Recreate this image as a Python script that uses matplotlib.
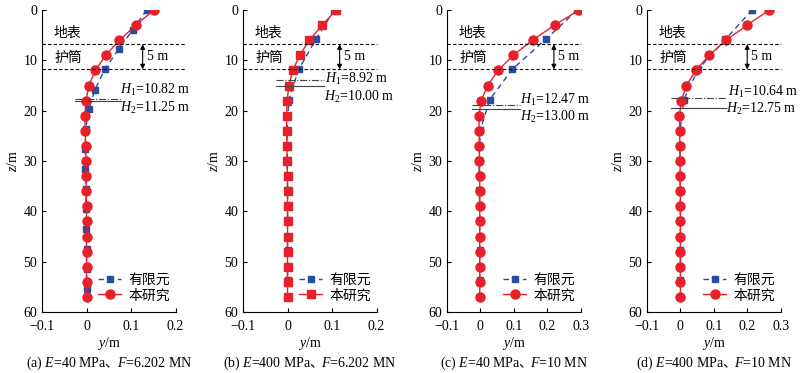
import matplotlib
matplotlib.use("Agg")
import matplotlib.pyplot as plt

plt.rcParams['font.family'] = ['Liberation Serif', 'Noto Sans CJK SC']
plt.rcParams['mathtext.fontset'] = 'custom'
plt.rcParams['mathtext.rm'] = 'Liberation Serif'
plt.rcParams['mathtext.it'] = 'Liberation Serif:italic'
plt.rcParams['font.size'] = 10

RED = "#e8202a"
BLUE = "#2b4c9f"

# depths (m)
z_ours = [0, 3, 6, 9, 12, 15, 18, 21, 24, 27, 30, 33, 36, 39, 42, 45, 48, 51, 54, 57]
z_fem_a = [0, 3.9, 7.8, 11.8, 15.8, 19.7, 23.7, 27.7, 31.6, 35.6, 39.6, 43.6, 47.5, 51.5, 55.5]
z_fem = [0, 5.8, 11.8, 17.8, 23.8, 29.8, 35.7, 41.7, 47.7, 53.7]

# lateral displacement y (m)
ours_a = [0.151, 0.111, 0.074, 0.043, 0.020, 0.005, -0.001, -0.004, -0.003, -0.002,
          -0.001, -0.001, -0.001, 0, 0, 0, 0, 0, 0, 0]
fem_a = [0.135, 0.104, 0.072, 0.041, 0.019, 0.005, -0.002, -0.003, -0.003, -0.002,
         -0.001, -0.001, 0, 0, 0]
ours_b = [0.109, 0.078, 0.049, 0.027, 0.012, 0.003, -0.001, -0.002, -0.002, -0.001,
          -0.001, 0, 0, 0, 0, 0, 0, 0, 0, 0]
fem_b = [0.105, 0.064, 0.025, 0.003, -0.001, -0.001, 0, 0, 0, 0]
ours_c = [0.296, 0.222, 0.156, 0.098, 0.053, 0.022, 0.002, -0.004, -0.004, -0.003,
          -0.003, -0.002, -0.002, -0.002, -0.002, -0.002, -0.002, -0.002, -0.002, -0.002]
fem_c = [0.29, 0.196, 0.095, 0.028, 0.0, -0.004, -0.003, -0.002, -0.002, -0.002]
ours_d = [0.266, 0.200, 0.137, 0.086, 0.046, 0.018, 0.003, -0.003, -0.002, -0.002,
          -0.001, -0.001, 0, 0, 0, 0, 0, 0, 0, 0]
fem_d = [0.215, 0.135, 0.053, 0.010, -0.001, -0.001, -0.001, 0, 0, 0]

ticks_ab = [-0.1, 0, 0.1, 0.2]
ticks_cd = [-0.1, 0, 0.1, 0.2, 0.3]
ticklabels_ab = ["\u22120.1", "0", "0.1", "0.2"]
ticklabels_cd = ["\u22120.1", "0", "0.1", "0.2", "0.3"]
yticks = [0, 10, 20, 30, 40, 50, 60]

h1_labels = ["10.82", "8.92", "12.47", "10.64"]
h2_labels = ["11.25", "10.00", "13.00", "12.75"]
# caption split around the CJK comma (mathtext can't fall back to the CJK font)
cap_left = ["(a) $E$=40 MPa", "(b) $E$=400 MPa", "(c) $E$=40 MPa", "(d) $E$=400 MPa"]
cap_right = ["$F$=6.202 MN", "$F$=6.202 MN", "$F$=10 MN", "$F$=10 MN"]

ground_z = 6.8
casing_z = 11.8

panels = [
    dict(ours=ours_a, fem=fem_a, zf=z_fem_a, marker="o", ticks=ticks_ab, tl=ticklabels_ab,
         left=0.0525, dash_end=0.222, arrow_x=0.126,
         h1z=17.6, h2z=18.0, hx=(-0.026, 0.078), h1t=(0.076, 15.8), h2t=(0.076, 19.4)),
    dict(ours=ours_b, fem=fem_b, zf=z_fem, marker="s", ticks=ticks_ab, tl=ticklabels_ab,
         left=0.30375, dash_end=0.2, arrow_x=0.117,
         h1z=13.9, h2z=15.1, hx=(-0.025, 0.083), h1t=(0.085, 13.7), h2t=(0.083, 17.3)),
    dict(ours=ours_c, fem=fem_c, zf=z_fem, marker="o", ticks=ticks_cd, tl=ticklabels_cd,
         left=0.55875, dash_end=0.3, arrow_x=0.22,
         h1z=18.9, h2z=19.6, hx=(-0.024, 0.118), h1t=(0.12, 17.9), h2t=(0.12, 21.3)),
    dict(ours=ours_d, fem=fem_d, zf=z_fem, marker="o", ticks=ticks_cd, tl=ticklabels_cd,
         left=0.80875, dash_end=0.3, arrow_x=0.2,
         h1z=17.5, h2z=19.5, hx=(-0.027, 0.136), h1t=(0.143, 16.2), h2t=(0.138, 19.7)),
]

fig = plt.figure(figsize=(8, 3.73), dpi=100)
renderer = fig.canvas.get_renderer()
fig_w = fig.get_figwidth() * fig.dpi

AX_W = 0.167

for i, p in enumerate(panels):
    ax = fig.add_axes([p["left"], 0.1635, AX_W, 0.8097])
    ms_ours = 6.5 if p["marker"] == "o" else 5.5
    ax.plot(p["fem"], p["zf"], color=BLUE, ls=(0, (4, 3)), lw=1.0, marker="s",
            ms=5, label="有限元")
    ax.plot(p["ours"], z_ours, color=RED, lw=1.0, marker=p["marker"], ms=ms_ours,
            label="本研究")

    x0, x1 = p["ticks"][0], p["ticks"][-1]
    ax.set_xlim(x0, x1)
    ax.set_ylim(60, 0)
    ax.set_xticks(p["ticks"])
    ax.set_xticklabels(p["tl"])
    ax.set_yticks(yticks)
    ax.spines["top"].set_visible(False)
    ax.spines["right"].set_visible(False)
    ax.tick_params(direction="in", length=3, width=0.8, labelsize=10)
    ax.tick_params(axis="x", pad=6)
    ax.set_xlabel("$y$/m", fontsize=10, labelpad=1)
    ax.set_ylabel("$z$/m", fontsize=10, labelpad=2)

    # ground / casing lines
    for zz in (ground_z, casing_z):
        ax.plot([x0, p["dash_end"]], [zz, zz], color="black", lw=0.8,
                ls=(0, (3, 2)), clip_on=False)
    ax.text(0.09, 4.6, "地表", transform=ax.get_yaxis_transform(), fontsize=10,
            va="center", ha="left")
    ax.text(0.09, 9.5, "护筒", transform=ax.get_yaxis_transform(), fontsize=10,
            va="center", ha="left")
    ax.annotate("", xy=(p["arrow_x"], casing_z), xytext=(p["arrow_x"], ground_z),
                arrowprops=dict(arrowstyle="<|-|>", color="black", lw=0.8,
                                mutation_scale=7, shrinkA=0, shrinkB=0))
    ax.annotate("5 m", xy=(p["arrow_x"], 9.3), xytext=(3, 0),
                textcoords="offset points", va="center", ha="left", fontsize=10)

    # H1 / H2 markers
    ax.plot(p["hx"], [p["h1z"], p["h1z"]], color="#444444", lw=0.8, ls="-.")
    ax.plot(p["hx"], [p["h2z"], p["h2z"]], color="#444444", lw=0.8, ls="-")
    ax.text(p["h1t"][0], p["h1t"][1], "$H_1$=" + h1_labels[i] + " m",
            va="center", ha="left", fontsize=10)
    ax.text(p["h2t"][0], p["h2t"][1], "$H_2$=" + h2_labels[i] + " m",
            va="center", ha="left", fontsize=10)

    ax.legend(loc="lower right", bbox_to_anchor=(1.03, 0.0), frameon=False,
              handlelength=1.7, handletextpad=0.5, labelspacing=0.15,
              borderaxespad=0.3, fontsize=10)

    # caption: left part + CJK comma + right part, laid out by measured widths
    cy = 0.027
    t1 = fig.text(0, cy, cap_left[i], ha="left", va="center", fontsize=10)
    t2 = fig.text(0, cy, "\u3001", ha="left", va="center", fontsize=10)
    t3 = fig.text(0, cy, cap_right[i], ha="left", va="center", fontsize=10)
    w1 = t1.get_window_extent(renderer).width
    w3 = t3.get_window_extent(renderer).width
    comma_x = w1 - 2
    right_x = w1 + 10
    total = right_x + w3
    start = (p["left"] + AX_W / 2) * fig_w - total / 2
    t1.set_x(start / fig_w)
    t2.set_x((start + comma_x) / fig_w)
    t3.set_x((start + right_x) / fig_w)

fig.savefig("out.png", dpi=100)
